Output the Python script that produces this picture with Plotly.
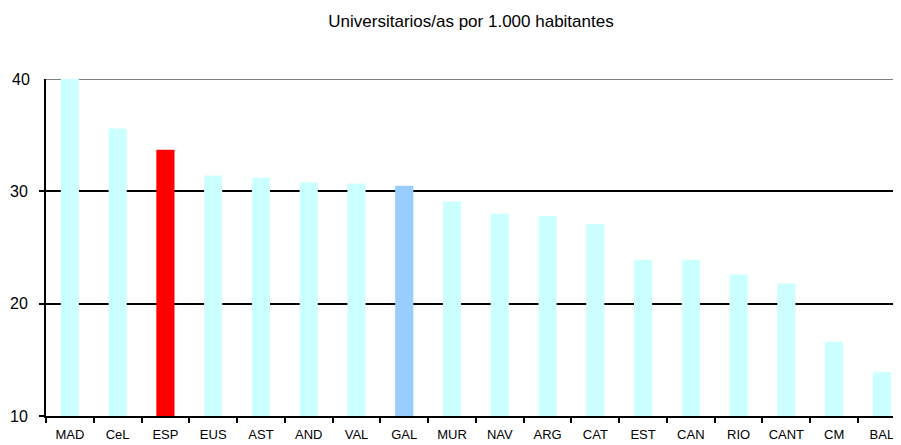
import plotly.graph_objects as go

# Datos: universitarios/as por 1.000 habitantes
comunidades = ["MAD", "CeL", "ESP", "EUS", "AST", "AND", "VAL", "GAL", "MUR",
               "NAV", "ARG", "CAT", "EST", "CAN", "RIO", "CANT", "CM", "BAL"]
valores = [40.0, 35.6, 33.7, 31.4, 31.2, 30.8, 30.7, 30.5, 29.1,
           28.0, 27.8, 27.1, 23.9, 23.9, 22.6, 21.8, 16.6, 13.9]

colores = []
for c in comunidades:
    if c == "ESP":
        colores.append("#FF0000")
    elif c == "GAL":
        colores.append("#99CCFF")
    else:
        colores.append("#CCFFFF")

fuente = "Arial, Liberation Sans, sans-serif"

# la página tiene 8px de margen en el body: se resta del tamaño de la figura
ancho, alto = 893, 437

fig = go.Figure()

fig.add_trace(go.Bar(
    x=comunidades,
    y=valores,
    marker=dict(color=colores, line=dict(width=0)),
    width=0.38,
    hovertemplate="%{x}: %{y:.1f}<extra></extra>",
))

# borde superior gris del área de trazado
fig.add_shape(type="line", xref="paper", yref="y", x0=0, x1=1, y0=40, y1=40,
              line=dict(color="#808080", width=2), layer="below")

fig.update_layout(
    title=dict(
        text="Universitarios/as por 1.000 habitantes",
        xref="container", x=463 / ancho, xanchor="center",
        yref="container", y=1 - 13 / alto, yanchor="middle",
        font=dict(family=fuente, size=17, color="black"),
    ),
    width=ancho,
    height=alto,
    margin=dict(l=38, r=0, t=71, b=29, autoexpand=False),
    paper_bgcolor="white",
    plot_bgcolor="white",
    showlegend=False,
    font=dict(family=fuente, color="black"),
    xaxis=dict(
        type="category",
        range=[-0.5, 17.4],
        showline=True,
        linecolor="black",
        linewidth=2,
        ticks="outside",
        tickson="boundaries",
        ticklen=5,
        tickcolor="black",
        tickwidth=2,
        tickangle=0,
        ticklabelstandoff=5,
        showgrid=False,
        tickfont=dict(size=13, color="black"),
    ),
    yaxis=dict(
        range=[10, 40],
        tickvals=[10, 20, 30],
        showline=True,
        linecolor="black",
        linewidth=2,
        ticks="outside",
        ticklen=5,
        tickcolor="black",
        tickwidth=2,
        ticklabelstandoff=8,
        showgrid=True,
        gridcolor="black",
        gridwidth=2,
        zeroline=False,
        tickfont=dict(size=16, color="black"),
    ),
)

# etiqueta 40 en el borde superior
fig.add_annotation(xref="paper", yref="y", x=0, y=40, text="40", showarrow=False,
                   xanchor="right", xshift=-14, font=dict(family=fuente, size=16, color="black"))

fig.write_html("out.html")
